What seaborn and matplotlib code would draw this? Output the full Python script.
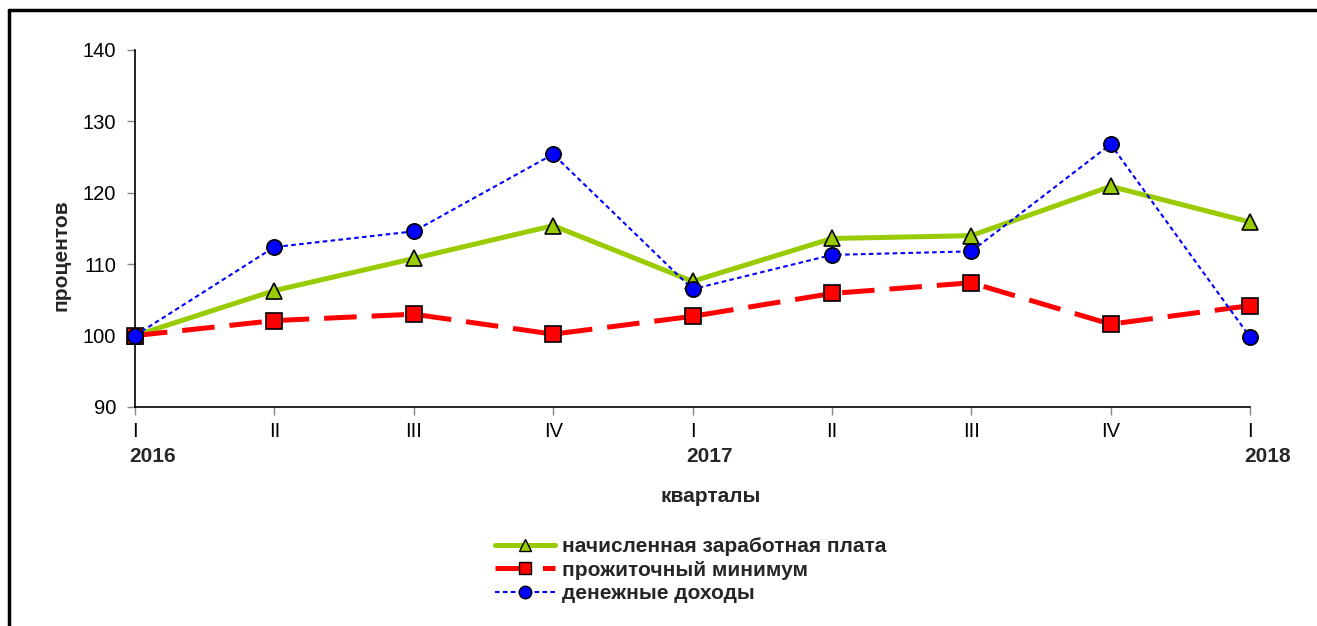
import matplotlib
matplotlib.use("Agg")
import matplotlib.pyplot as plt
import matplotlib.lines as mlines
import matplotlib.transforms as mtransforms
import seaborn as sns
import numpy as np
import pandas as pd

quarters = ["I", "II", "III", "IV", "I", "II", "III", "IV", "I"]
years = {0: "2016", 4: "2017", 8: "2018"}
wage = [100, 106.3, 110.8, 115.4, 107.6, 113.6, 114.0, 120.9, 115.9]
subsistence = [100, 102.1, 103.0, 100.2, 102.7, 105.9, 107.4, 101.6, 104.2]
income = [100, 112.4, 114.6, 125.4, 106.5, 111.3, 111.8, 126.8, 99.8]
names = ["начисленная заработная плата", "прожиточный минимум", "денежные доходы"]

sns.set_style("ticks")
plt.rcParams['font.family'] = ['Liberation Sans', 'DejaVu Sans']

fig = plt.figure(figsize=(13.17, 6.26), dpi=100)
ax = fig.add_axes([135/1317, 1-407/626, (1250-135)/1317, (407-50)/626])

x = np.arange(len(quarters))
df = pd.DataFrame({"x": x, "wage": wage, "sub": subsistence, "inc": income})

GREEN, RED, BLUE = "#99CC00", "#FF0000", "#0000FF"
MS = 11

sns.lineplot(data=df, x="x", y="wage", ax=ax, color=GREEN, lw=3.6, marker="^",
             markersize=MS, markerfacecolor=GREEN, markeredgecolor="black",
             markeredgewidth=1.2, zorder=3)
sns.lineplot(data=df, x="x", y="sub", ax=ax, color=RED, lw=3.6, marker="s",
             markersize=MS, markerfacecolor=RED, markeredgecolor="black",
             markeredgewidth=1.2, zorder=4)
ax.lines[-1].set_dashes([6.5, 3])
sns.lineplot(data=df, x="x", y="inc", ax=ax, color=BLUE, lw=1.5, marker="o",
             markersize=MS, markerfacecolor=BLUE, markeredgecolor="black",
             markeredgewidth=1.2, zorder=5)
ax.lines[-1].set_dashes([2.2, 1.6])

ax.set_xlim(0, 8)
ax.set_ylim(90, 140)
ax.set_yticks([90, 100, 110, 120, 130, 140])
ax.set_xticks(x)
ax.set_xticklabels(quarters)
ax.tick_params(axis="both", colors="#888888", labelcolor="black", labelsize=14.5,
               length=5.5, width=1)
ax.tick_params(axis="x", pad=5)
ax.tick_params(axis="y", pad=8)
for s in ["top", "right"]:
    ax.spines[s].set_visible(False)
for s in ["left", "bottom"]:
    ax.spines[s].set_color("black")
    ax.spines[s].set_linewidth(1.2)
for l in ax.lines:
    l.set_clip_on(False)

ax.set_xlabel("")
ax.set_ylabel("")
fig.text(61/1317, 1-255/626, "процентов", rotation=90, ha="center", va="center",
         fontsize=15, fontweight="bold")

trans = mtransforms.blended_transform_factory(ax.transData, ax.transAxes)
offset = mtransforms.ScaledTranslation(-6/100, 0, fig.dpi_scale_trans)
for xi, yr in years.items():
    ax.text(xi, -(457-407)/357, yr, transform=trans + offset, ha="left", va="center",
            fontsize=15, fontweight="bold")

fig.text(711/1317, 1-497/626, "кварталы", ha="center", va="center",
         fontsize=15, fontweight="bold")

h1 = mlines.Line2D([], [], color=GREEN, lw=3.6, marker="^", markersize=9,
                   markerfacecolor=GREEN, markeredgecolor="black")
h2 = mlines.Line2D([], [], color=RED, lw=3.6, marker="s", markersize=9,
                   markerfacecolor=RED, markeredgecolor="black", dashes=[6.5, 3])
h3 = mlines.Line2D([], [], color=BLUE, lw=1.5, marker="o", markersize=9,
                   markerfacecolor=BLUE, markeredgecolor="black", dashes=[2.2, 1.6])
leg = fig.legend([h1, h2, h3], names, loc="upper left",
                 bbox_to_anchor=(495/1317, 1-537/626), borderpad=0, borderaxespad=0,
                 frameon=False, prop={"size": 15, "weight": "bold"}, handlelength=2.9,
                 handletextpad=0.3, labelspacing=0.22)

fig.add_artist(mlines.Line2D([9/1317, 9/1317], [0, 1-10/626], color="black", lw=2.5,
                             transform=fig.transFigure))
fig.add_artist(mlines.Line2D([9/1317, 1], [1-10/626, 1-10/626], color="black", lw=2.5,
                             transform=fig.transFigure))

fig.savefig("out.png", dpi=100)
